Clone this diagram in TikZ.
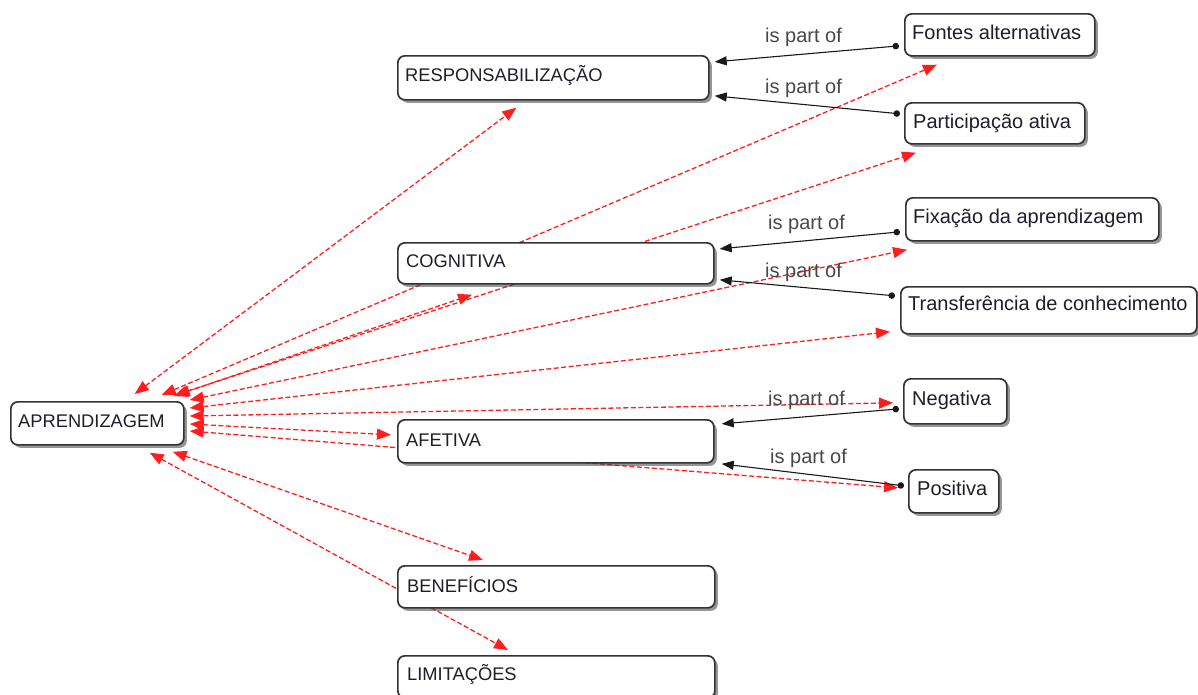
\documentclass[tikz,border=0pt]{standalone}
\usepackage{fontspec}
\setmainfont{Liberation Sans}
\usetikzlibrary{arrows.meta,shadows}

\definecolor{boxline}{HTML}{333333}
\definecolor{linkred}{HTML}{FF1E1E}
\definecolor{txtcol}{HTML}{1E1E2A}
\definecolor{lblcol}{HTML}{474747}

\pgfdeclarelayer{links}
\pgfsetlayers{links,main}

\tikzset{
  cbox/.style={draw=boxline, line width=1.7pt, rounded corners=7pt, fill=white,
    drop shadow={shadow xshift=3pt, shadow yshift=-3pt, opacity=0.55, fill=black!75},
    inner sep=0pt, anchor=north west},
  captxt/.style={text=txtcol, inner sep=0pt, anchor=base west,
    font=\fontsize{18.3}{22}\selectfont},
  lowtxt/.style={text=txtcol, inner sep=0pt, anchor=base west,
    font=\fontsize{20}{24}\selectfont},
  lbl/.style={text=lblcol, inner sep=0pt, anchor=base west,
    font=\fontsize{20}{24}\selectfont},
  crosslink/.style={draw=linkred, line width=1.3pt, dash pattern=on 5pt off 2.5pt,
    {Triangle[length=14pt,width=11pt,fill=linkred]}-{Triangle[length=14pt,width=11pt,fill=linkred]}},
  partof/.style={draw=black!90, line width=1.1pt,
    {Circle[length=6.5pt]}-{Triangle[length=12pt,width=9pt]}},
}

\begin{document}
\begin{tikzpicture}[x=1pt,y=-1pt]
\useasboundingbox (0,0) rectangle (1198,694);
\clip (0,0) rectangle (1198,694);

% concept boxes
\node[cbox, minimum width=173, minimum height=43] (apr) at (10,401) {};
\node[cbox, minimum width=311, minimum height=44] (resp) at (397,55) {};
\node[cbox, minimum width=316, minimum height=41] (cogn) at (397,242) {};
\node[cbox, minimum width=316, minimum height=43] (afet) at (397,419) {};
\node[cbox, minimum width=317, minimum height=42] (bene) at (397,565) {};
\node[cbox, minimum width=317, minimum height=42] (limi) at (397,655) {};
\node[cbox, minimum width=190, minimum height=42] (fontes) at (904,13) {};
\node[cbox, minimum width=180, minimum height=41] (partic) at (904,102) {};
\node[cbox, minimum width=253, minimum height=43] (fixa) at (905,197) {};
\node[cbox, minimum width=296, minimum height=47] (transf) at (900,286) {};
\node[cbox, minimum width=103, minimum height=45] (nega) at (903,378) {};
\node[cbox, minimum width=90, minimum height=43] (posi) at (908,469) {};

% concept texts
\node[captxt] (apr-t) at (18,427) {APRENDIZAGEM};
\node[captxt] (resp-t) at (405,81) {RESPONSABILIZAÇÃO};
\node[captxt] (cogn-t) at (406,267) {COGNITIVA};
\node[captxt] (afet-t) at (406,446) {AFETIVA};
\node[captxt] (bene-t) at (407,592) {BENEFÍCIOS};
\node[captxt] (limi-t) at (407,680) {LIMITAÇÕES};
\node[lowtxt] (fontes-t) at (912,39) {Fontes alternativas};
\node[lowtxt] (partic-t) at (913,128) {Participação ativa};
\node[lowtxt] (fixa-t) at (913,223) {Fixação da aprendizagem};
\node[lowtxt] (transf-t) at (908,310) {Transferência de conhecimento};
\node[lowtxt] (nega-t) at (912,405) {Negativa};
\node[lowtxt] (posi-t) at (917,495) {Positiva};

% red cross-links from APRENDIZAGEM, running underneath the boxes
\begin{pgfonlayer}{links}
\draw[crosslink] ([shift={(-50,-7)}]apr.north east) -- ([shift={(-37,7)}]resp.south);
\draw[crosslink] ([shift={(-23,-6)}]apr.north east) -- ([shift={(33,8)}]fontes.south west);
\draw[crosslink] ([shift={(-9,-6)}]apr.north east) -- ([shift={(12,8)}]partic.south west);
\draw[crosslink] ([shift={(-11,-5)}]apr.north east) -- ([shift={(75,10)}]cogn.south west);
\draw[crosslink] ([shift={(5,-1)}]apr.north east) -- ([shift={(2,8)}]fixa.south west);
\draw[crosslink] ([shift={(5,7)}]apr.north east) -- ([shift={(-10,-3)}]transf.south west);
\draw[crosslink] ([shift={(5,15)}]apr.north east) -- ([shift={(-10,1.5)}]nega.west);
\draw[crosslink] ([shift={(5,23)}]apr.north east) -- ([shift={(-6,-6.5)}]afet.west);
\draw[crosslink] ([shift={(5,30)}]apr.north east) -- ([shift={(-10,-3.5)}]posi.west);
\draw[crosslink] ([shift={(-12,6)}]apr.south east) -- ([shift={(86,-5)}]bene.north west);
\draw[crosslink] ([shift={(-35,7)}]apr.south east) -- ([shift={(111,-5)}]limi.north west);
\end{pgfonlayer}

% "is part of" links
\draw[partof] ([shift={(-5,11)}]fontes.west) -- ([shift={(5,-16)}]resp.east);
\draw[partof] ([shift={(-4,-9.5)}]partic.west) -- ([shift={(5,18)}]resp.east);
\draw[partof] ([shift={(-5,12.5)}]fixa.west) -- ([shift={(5,-14.5)}]cogn.east);
\draw[partof] ([shift={(-5,-14.5)}]transf.west) -- ([shift={(5,16.5)}]cogn.east);
\draw[partof] ([shift={(-4,7.5)}]nega.west) -- ([shift={(7,-17.5)}]afet.east);
\draw[partof] ([shift={(-4,-5.5)}]posi.west) -- ([shift={(7,22.5)}]afet.east);

% link phrases
\node[lbl] (l1) at (765,42) {is part of};
\node[lbl] (l2) at (765,93) {is part of};
\node[lbl] (l3) at (768,229) {is part of};
\node[lbl] (l4) at (765,277) {is part of};
\node[lbl] (l5) at (768,405) {is part of};
\node[lbl] (l6) at (770,463) {is part of};
\end{tikzpicture}
\end{document}
